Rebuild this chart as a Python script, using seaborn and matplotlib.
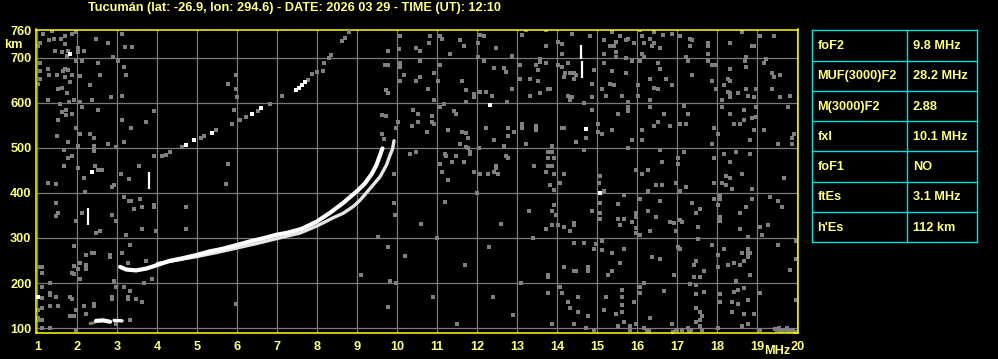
import matplotlib
matplotlib.use("Agg")
import matplotlib.pyplot as plt
import seaborn as sns

# ---------------- data ----------------
title = "Tucumán (lat: -26.9, lon: 294.6) - DATE: 2026 03 29 - TIME (UT): 12:10"
freq_ticks = list(range(1, 21))
height_ticks = [100, 200, 300, 400, 500, 600, 700, 760]
grid_heights = [100, 200, 300, 400, 500, 600, 700]

# F-layer ordinary trace (MHz, km)
o_f = [3.07, 3.22, 3.47, 3.72, 3.97, 4.30, 4.63, 4.97, 5.30, 5.63, 5.97, 6.30, 6.63,
       6.97, 7.27, 7.60, 7.98, 8.32, 8.65, 8.98, 9.19, 9.36, 9.48, 9.57, 9.63]
o_h = [236, 230, 228, 232, 239, 249, 255, 262, 270, 276, 284, 292, 299,
       307, 312, 320, 336, 356, 378, 403, 421, 442, 462, 484, 499]
# F-layer extraordinary trace
x_f = [4.00, 4.50, 5.00, 5.50, 6.00, 6.50, 7.00, 7.57, 8.00, 8.40, 8.65, 8.90, 9.07, 9.36, 9.57, 9.73, 9.82, 9.88, 9.92]
x_h = [243, 251, 259, 268, 278, 288, 299, 311, 327, 345, 355, 370, 384, 414, 436, 462, 484, 497, 516]

# sporadic E trace pieces
es1_f = [2.47, 2.65, 2.82]
es1_h = [116, 117, 114]
es2_f = [2.92, 3.12]
es2_h = [117, 116]
es_gray_f = [2.32, 2.38, 2.45]
es_gray_h = [110, 111, 113]

# second-hop echoes
hop2_white_f = [4.73, 4.93, 5.37, 6.38, 6.60, 7.48, 7.55, 7.62, 7.70]
hop2_white_h = [507, 518, 533, 575, 588, 628, 633, 640, 646]
hop2_gray_f = [4.63, 5.09, 5.18, 5.47, 6.08, 6.22, 6.52, 7.78, 7.88, 8.00, 8.15,
               8.18, 8.30, 8.35, 8.63, 8.70, 8.80]
hop2_gray_h = [503, 522, 527, 539, 563, 569, 582, 650, 665, 668, 670,
               688, 700, 706, 737, 745, 758]

# short vertical white echoes
dash_f = [2.28, 3.80, 14.59, 14.62]
dash_h0 = [329, 409, 698, 655]
dash_h1 = [366, 446, 728, 692]

# isolated white specks
white_f = [1.83, 2.38, 12.33, 14.73, 15.08, 1.03]
white_h = [708, 446, 595, 543, 400, 170]

# gray noise specks
noise_f = [
 1.38,1.15,1.88,1.70,1.59,1.43,1.30,1.08,1.98,1.70,1.03,1.45,1.63,1.78,2.03,2.03,2.18,1.75,2.48,2.78,
 3.13,3.20,3.37,2.90,1.08,1.28,1.08,1.30,1.50,1.65,1.70,1.78,1.88,1.70,1.83,1.08,1.03,1.53,1.63,1.75,
 2.08,2.13,1.98,2.53,2.58,3.03,3.18,3.23,2.33,3.13,2.85,1.28,1.80,1.93,2.08,2.38,1.58,1.73,1.63,1.73,
 1.88,2.13,2.52,1.53,1.98,3.13,3.35,3.73,3.93,1.50,2.08,2.33,2.43,1.78,2.03,2.43,2.78,2.98,3.18,1.68,
 2.43,1.88,1.78,1.68,2.03,2.45,2.53,2.63,2.18,3.10,3.30,3.55,3.93,4.13,4.23,4.33,5.78,5.78,5.97,5.98,
 6.00,5.93,5.88,7.13,6.83,
 9.78,9.70,9.78,9.73,9.78,10.08,10.05,10.08,10.08,10.18,10.08,10.48,10.58,10.80,10.83,10.58,10.48,10.58,
 10.93,10.78,10.93,11.08,11.13,11.33,11.58,11.68,11.08,11.03,11.63,11.73,11.73,11.93,11.93,12.08,12.07,
 12.18,12.03,12.03,12.18,12.48,12.43,12.68,12.73,12.23,12.37,12.75,12.88,12.88,13.08,13.08,13.13,13.23,
 13.33,13.33,13.48,13.53,13.58,13.58,13.53,13.58,
 9.63,9.73,10.03,9.98,10.40,10.53,10.53,10.38,10.88,10.88,10.93,10.75,11.08,11.18,11.43,11.48,11.28,
 11.63,11.73,11.78,11.58,11.73,11.78,11.83,12.05,12.23,12.43,12.78,12.78,12.93,13.13,13.13,13.48,13.48,
 13.23,12.68,9.63,9.68,10.33,10.48,11.08,11.20,11.23,11.38,11.48,11.68,11.83,11.93,12.08,12.28,12.48,
 12.48,12.43,12.53,12.73,12.78,13.43,11.13,11.28,9.93,
 13.73,13.73,14.03,14.13,14.38,14.13,14.03,14.13,14.28,14.20,14.33,14.43,14.48,14.43,14.18,13.73,13.78,
 13.83,14.28,14.33,14.38,14.83,14.93,14.88,14.88,15.18,15.18,15.33,15.43,15.48,15.48,15.38,15.58,15.73,
 15.93,15.78,15.18,15.38,15.73,15.33,15.43,15.13,15.23,15.63,15.88,15.73,15.48,16.08,16.13,16.18,16.33,
 16.38,16.43,16.58,16.43,16.65,16.88,16.13,16.18,16.08,16.53,16.58,16.33,16.73,16.88,16.43,16.53,16.03,
 16.03,16.33,17.08,17.33,17.38,17.33,17.78,17.78,17.78,17.23,17.28,17.78,17.38,17.88,17.98,17.88,17.98,
 18.18,18.28,18.33,18.28,18.33,18.53,18.13,18.33,18.33,18.63,18.88,18.93,18.73,18.70,18.73,18.33,18.73,
 18.78,18.93,18.98,19.08,19.43,19.23,19.18,19.38,19.43,19.58,19.38,19.58,19.83,
 14.68,14.88,14.13,14.18,14.73,14.48,15.03,15.03,15.13,15.53,15.38,15.78,15.78,15.78,15.88,15.78,16.13,
 16.13,16.33,16.43,16.53,16.68,16.83,16.58,17.18,17.28,17.08,17.23,17.18,17.03,17.03,17.93,18.03,17.88,
 18.13,18.33,18.43,18.58,18.68,18.68,18.88,18.98,18.93,18.83,18.98,19.18,19.53,19.78,19.93,19.88,19.88,
 18.18,18.33,18.48,18.83,17.93,18.63,18.23,18.33,16.63,16.13,16.28,15.98,15.08,14.68,14.18,13.88,13.78,
 13.88,13.93,13.78,13.78,13.88,13.93,13.73,19.68,
 1.28,1.48,2.20,2.93,2.87,5.73,1.48,1.53,1.48,2.13,1.98,2.48,2.58,2.88,2.98,3.18,3.30,3.35,3.58,3.63,
 3.43,3.93,3.93,4.73,4.73,3.63,3.98,3.23,3.33,3.13,3.28,1.93,1.13,1.08,1.13,1.93,1.93,2.08,2.23,2.38,
 2.43,2.23,2.23,2.03,2.83,2.83,2.93,2.08,1.88,3.73,3.88,3.68,1.33,1.13,1.33,1.33,1.13,1.48,1.83,1.88,
 1.53,1.33,1.13,1.03,1.83,1.93,1.98,2.18,2.43,2.43,2.98,2.88,2.88,3.18,3.33,3.28,3.28,3.48,3.63,2.23,
 1.03,1.03,1.13,1.33,1.13,1.98,3.33,2.98,5.98,
 13.83,13.93,14.08,15.05,15.18,15.68,16.08,16.28,16.48,16.63,16.98,17.08,17.23,17.93,18.13,18.23,18.38,
 18.88,18.08,18.08,17.93,18.03,17.38,17.58,17.48,18.73,18.88,19.33,19.53,19.63,13.93,13.88,13.98,14.88,
 15.08,15.08,15.08,15.53,15.68,15.53,15.88,15.58,15.98,15.98,15.98,15.98,16.28,16.48,16.58,16.33,16.08,
 16.83,16.93,17.08,17.13,16.98,17.53,18.08,18.08,18.58,18.58,18.78,19.08,19.13,19.28,14.18,14.43,14.43,
 14.33,14.03,13.88,13.73,
 14.43,14.68,14.98,14.93,15.13,15.13,15.38,15.68,15.58,15.38,15.28,14.18,14.43,14.48,14.78,14.78,13.78,
 13.78,16.38,16.58,16.93,17.03,17.08,17.53,17.88,18.03,18.18,18.63,18.78,18.83,18.78,18.78,17.48,17.43,
 17.68,17.58,17.43,18.03,18.28,18.43,18.58,18.68,18.83,18.48,19.83,19.53,19.98,19.98,
 13.78,14.08,14.13,14.28,14.33,14.53,14.53,14.78,13.88,14.43,14.73,14.93,15.18,15.23,15.63,15.63,15.63,
 15.63,15.48,15.68,15.93,16.08,16.08,16.18,15.83,15.83,15.53,15.98,16.18,16.33,16.68,16.88,16.98,17.13,
 17.28,17.33,17.48,17.68,17.48,17.48,17.58,17.63,17.58,17.48,17.58,17.63,18.08,18.08,18.38,18.43,18.53,
 18.68,18.78,18.53,18.38,18.68,18.93,18.78,19.08,18.03,18.63,19.08,19.98,
 19.45,19.50,19.60,19.70,19.80,19.90,19.95,19.55,19.75,16.25,16.30,16.90,17.00,17.30,17.35,
 10.90,11.70,12.30,12.60,11.20,13.10,10.60,12.90,11.50,13.40,10.20,12.00,13.30,9.10,11.00,12.40,
 9.53,9.78,9.94,9.93,9.78,9.82,9.98]
noise_h = [
 760,752,752,749,743,743,740,734,757,730,727,715,712,715,721,712,716,704,743,734,
 752,725,725,703,688,676,670,661,661,670,675,672,661,657,646,652,643,631,633,622,
 660,692,692,688,661,692,679,661,639,616,612,607,603,607,601,606,598,585,579,573,
 576,590,585,563,545,563,545,558,581,527,531,531,522,513,504,504,509,503,513,496,
 493,481,478,460,455,460,451,451,433,442,430,460,482,481,484,491,643,464,661,630,
 612,585,554,616,598,
 716,684,684,628,622,749,719,688,679,661,648,721,716,733,749,692,648,657,
 666,630,607,749,742,709,739,727,684,648,648,628,603,620,612,625,751,
 749,734,703,692,722,678,678,669,625,616,603,630,704,684,652,751,761,
 652,616,684,673,697,691,648,621,
 573,570,558,545,585,576,558,549,572,558,554,536,590,597,581,576,540,
 536,533,522,509,503,500,491,500,545,518,545,527,536,554,545,549,540,
 509,504,531,519,487,491,464,487,482,469,482,469,487,446,442,442,460,
 455,446,442,482,478,460,446,428,442,
 761,727,736,730,752,709,684,679,688,666,666,666,661,654,657,688,630,
 630,616,607,612,749,673,643,612,739,709,727,727,736,712,758,749,739,
 733,743,688,670,666,643,639,630,616,616,692,699,701,761,749,733,743,
 727,733,721,758,751,752,709,701,692,688,675,652,654,639,634,630,639,
 616,607,749,743,739,727,734,727,709,703,692,692,661,684,684,648,630,
 639,652,648,625,621,621,607,612,734,757,727,727,703,692,679,675,630,
 616,612,630,749,749,697,688,666,657,661,630,612,616,
 599,585,545,545,522,513,554,536,531,576,540,603,590,581,518,500,540,
 518,590,549,558,576,549,495,594,576,554,554,491,478,464,545,531,509,
 590,576,554,554,563,585,567,569,540,518,590,540,509,590,531,522,509,
 487,469,491,487,478,442,437,433,469,442,451,451,437,496,442,504,491,
 491,478,478,460,460,442,446,433,
 422,421,403,418,413,421,378,356,348,356,338,311,316,351,338,391,382,382,387,369,
 364,373,369,369,320,320,316,307,284,267,244,283,236,236,222,238,221,244,262,267,
 267,240,231,231,262,258,204,209,222,249,209,200,200,191,178,173,166,169,169,164,
 148,148,145,141,127,127,139,150,154,150,191,169,164,191,182,169,164,164,158,132,
 123,118,118,101,101,96,118,110,154,
 418,406,422,422,404,396,387,404,418,418,422,404,413,422,422,418,409,
 409,396,387,387,373,378,364,356,369,387,391,382,369,373,360,351,360,
 378,356,342,376,342,342,336,329,356,347,323,311,360,347,382,316,307,
 336,333,341,336,316,324,347,338,356,320,302,324,307,329,324,333,329,
 316,329,329,320,
 289,289,286,276,293,274,267,276,244,227,218,236,227,227,236,227,218,
 213,258,253,218,280,276,298,284,262,276,267,267,267,276,258,249,240,
 227,213,213,236,240,244,240,249,218,204,229,284,293,253,
 178,191,178,158,145,169,136,127,110,110,101,96,141,169,185,169,151,
 136,132,114,158,191,178,200,105,96,105,110,101,123,182,110,96,96,
 101,197,195,181,176,145,136,127,118,114,105,96,175,158,158,181,185,
 189,163,154,136,132,132,110,178,101,105,96,163,
 98,95,93,95,93,96,92,100,99,93,93,92,95,93,95,
 170,240,280,330,380,200,330,130,110,300,260,400,360,218,300,170,
 303,281,351,377,146,205,201]

table_params = ["foF2", "MUF(3000)F2", "M(3000)F2", "fxI", "foF1", "ftEs", "h'Es"]
table_values = ["9.8 MHz", "28.2 MHz", "2.88", "10.1 MHz", "NO", "3.1 MHz", "112 km"]

# ---------------- style ----------------
sns.set_theme(style="dark")
plt.rcParams["font.family"] = ["Liberation Sans", "DejaVu Sans"]
plt.rcParams["font.weight"] = "bold"

BG = "black"
YEL = "#ffff00"
TXT = "#ffff80"
GRID = "#7a7a7a"
NOISE = "#808080"
CYAN = "#00e0e0"

W, H = 998, 359
fig = plt.figure(figsize=(W / 100, H / 100), dpi=100, facecolor=BG)

left_px, right_px, top_px, bot_px = 35.6, 798.0, 29.5, 333.0
ax = fig.add_axes([left_px / W, (H - bot_px) / H, (right_px - left_px) / W, (bot_px - top_px) / H])
ax.set_facecolor(BG)
ax.set_xlim(0.958, 20.02)
ax.set_ylim(89, 763)

# grid
ax.vlines(freq_ticks, 89, 763, colors=GRID, linewidth=0.9, zorder=1)
ax.hlines(grid_heights, 0.958, 20.02, colors=GRID, linewidth=0.9, zorder=1)

# noise
sns.scatterplot(x=noise_f, y=noise_h, marker="s", s=5, color=NOISE, linewidth=0, ax=ax, zorder=2)
sns.scatterplot(x=white_f, y=white_h, marker="s", s=6, color="white", linewidth=0, ax=ax, zorder=3)

# second hop
sns.scatterplot(x=hop2_gray_f, y=hop2_gray_h, marker="s", s=7, color=NOISE, linewidth=0, ax=ax, zorder=3)
sns.scatterplot(x=hop2_white_f, y=hop2_white_h, marker="s", s=7, color="white", linewidth=0, ax=ax, zorder=3)

# vertical echoes
ax.vlines(dash_f, dash_h0, dash_h1, colors="white", linewidth=1.6, zorder=3)

# Es
sns.lineplot(x=es_gray_f, y=es_gray_h, color=NOISE, linewidth=2.2, sort=False, estimator=None, ax=ax, zorder=3)
sns.lineplot(x=es1_f, y=es1_h, color="white", linewidth=3.0, sort=False, estimator=None, ax=ax, zorder=4)
sns.lineplot(x=es2_f, y=es2_h, color="white", linewidth=2.4, sort=False, estimator=None, ax=ax, zorder=4)

# F traces
sns.lineplot(x=x_f, y=x_h, color="#e6e6e6", linewidth=2.4, sort=False, estimator=None, ax=ax, zorder=4)
sns.lineplot(x=o_f, y=o_h, color="white", linewidth=3.0, sort=False, estimator=None, ax=ax, zorder=5)

# axes decoration
ax.set_xticks(freq_ticks)
ax.set_xticklabels([str(v) for v in freq_ticks])
ax.set_yticks(height_ticks)
ax.set_yticklabels([str(v) for v in height_ticks])
ax.tick_params(axis="both", length=0, colors=TXT, labelsize=9.2)
ax.tick_params(axis="x", pad=6)
ax.tick_params(axis="y", pad=3)
for lab in ax.get_xticklabels() + ax.get_yticklabels():
    lab.set_fontweight("bold")
ax.set_xlabel("")
ax.set_ylabel("")
ax.grid(False)
for sp in ax.spines.values():
    sp.set_visible(True)
    sp.set_color(YEL)
    sp.set_linewidth(1.1)

fig.text(13.5 / W, 1 - 45 / H, "km", color=TXT, fontsize=9.2, fontweight="bold", ha="center", va="center")
fig.text(777.5 / W, 1 - 351.5 / H, "MHz", color=TXT, fontsize=9.2, fontweight="bold", ha="center", va="center")
fig.text(294.5 / W, 1 - 7.5 / H, title, color=TXT, fontsize=9.2, fontweight="bold", ha="center", va="center")

# table
t_l, t_r, t_t, t_b = 812.3, 977.3, 30.3, 242.3
tax = fig.add_axes([t_l / W, (H - t_b) / H, (t_r - t_l) / W, (t_b - t_t) / H])
tax.set_axis_off()
nrows = len(table_params)
tax.set_xlim(0, 1)
tax.set_ylim(nrows, 0)
col_x = (907.3 - t_l) / (t_r - t_l)
for r in range(nrows + 1):
    tax.plot([0, 1], [r, r], color=CYAN, linewidth=1.0, clip_on=False, solid_capstyle="projecting")
for cx in [0, col_x, 1]:
    tax.plot([cx, cx], [0, nrows], color=CYAN, linewidth=1.0, clip_on=False, solid_capstyle="projecting")
for r, (p, v) in enumerate(zip(table_params, table_values)):
    tax.text((817.3 - t_l) / (t_r - t_l), r + 0.52, p, color=TXT, fontsize=9.2, fontweight="bold",
             ha="left", va="center")
    tax.text((912.7 - t_l) / (t_r - t_l), r + 0.52, v, color=TXT, fontsize=9.2, fontweight="bold",
             ha="left", va="center")

fig.savefig("out.png", dpi=100, facecolor=BG)
